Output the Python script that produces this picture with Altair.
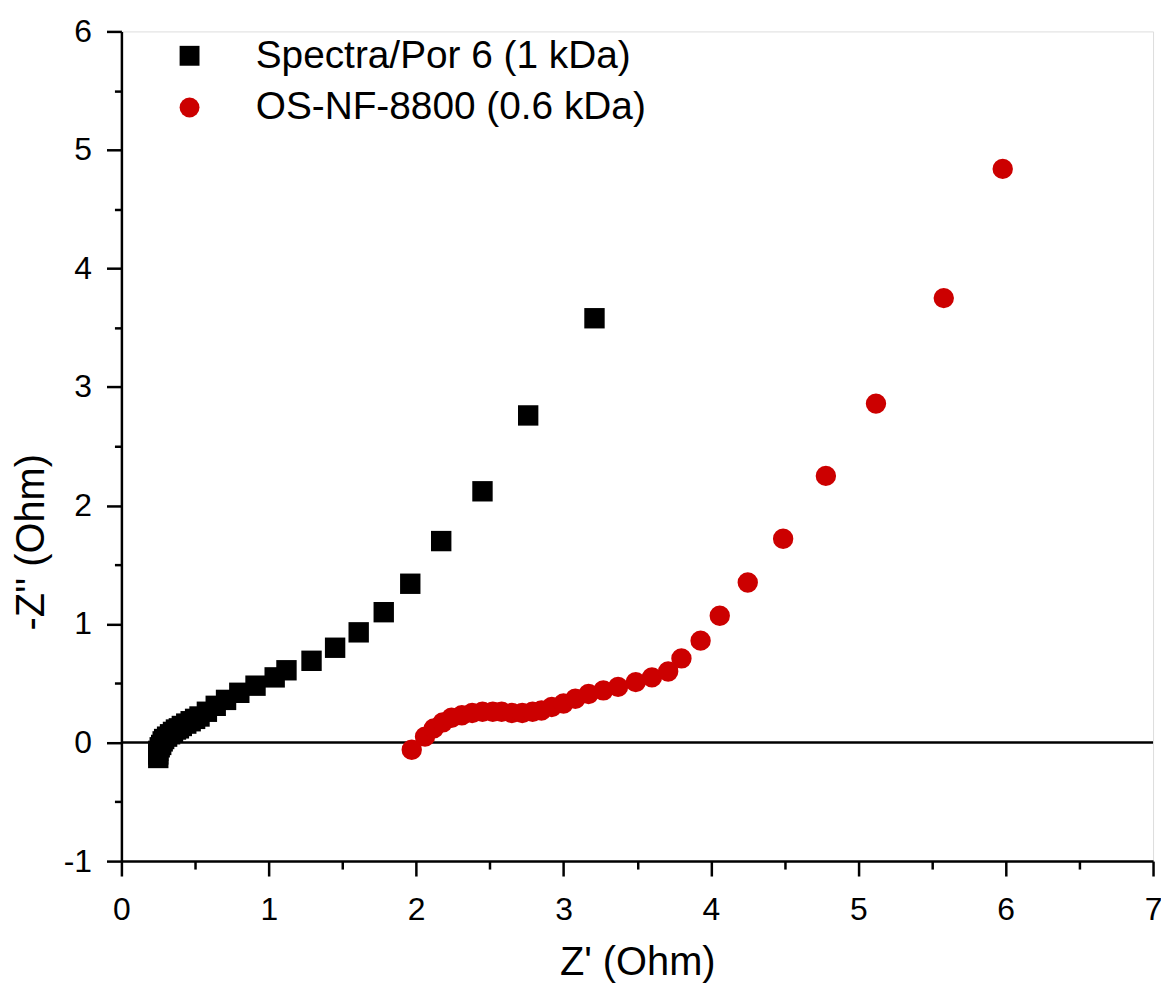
import altair as alt
import pandas as pd

# Spectra/Por 6 (1 kDa) - black squares
x_black = [0.25, 0.25, 0.25, 0.26, 0.27, 0.28, 0.29, 0.31, 0.33, 0.35, 0.37, 0.39, 0.41, 0.44,
           0.47, 0.50, 0.53, 0.58, 0.64, 0.71, 0.80, 0.91, 1.04, 1.12, 1.29, 1.45, 1.61,
           1.78, 1.96, 2.17, 2.45, 2.76, 3.21]
y_black = [-0.13, -0.10, -0.07, -0.04, -0.02, 0.01, 0.03, 0.05, 0.07, 0.09, 0.11, 0.12, 0.14, 0.16,
           0.18, 0.20, 0.22, 0.26, 0.31, 0.36, 0.42, 0.48, 0.55, 0.61, 0.69, 0.80, 0.93,
           1.10, 1.34, 1.70, 2.12, 2.76, 3.58]

# OS-NF-8800 (0.6 kDa) - red circles
x_red = [1.97, 2.06, 2.12, 2.18, 2.24, 2.31, 2.38, 2.45, 2.52, 2.58, 2.65, 2.72, 2.79, 2.85,
         2.92, 3.00, 3.08, 3.17, 3.27, 3.37, 3.49, 3.60, 3.71, 3.80, 3.93, 4.06, 4.25, 4.49,
         4.78, 5.12, 5.58, 5.98]
y_red = [-0.06, 0.05, 0.12, 0.17, 0.21, 0.23, 0.25, 0.26, 0.26, 0.26, 0.25, 0.25, 0.26, 0.27,
         0.30, 0.33, 0.37, 0.41, 0.44, 0.47, 0.51, 0.55, 0.60, 0.71, 0.86, 1.07, 1.35, 1.72,
         2.25, 2.86, 3.75, 4.84]

series_names = ["Spectra/Por 6 (1 kDa)", "OS-NF-8800 (0.6 kDa)"]
series_colors = ["#000000", "#cc0000"]
series_shapes = ["square", "circle"]

x_ticks = [0, 0.5, 1, 1.5, 2, 2.5, 3, 3.5, 4, 4.5, 5, 5.5, 6, 6.5, 7]
y_ticks = [-1, -0.5, 0, 0.5, 1, 1.5, 2, 2.5, 3, 3.5, 4, 4.5, 5, 5.5, 6]

df = pd.concat([
    pd.DataFrame({"x": x_black, "y": y_black, "s": series_names[0]}),
    pd.DataFrame({"x": x_red, "y": y_red, "s": series_names[1]}),
])

FONT = "Liberation Sans"
minor_test = "datum.value % 1 !== 0"
label_expr = "datum.value % 1 === 0 ? '' + datum.value : ''"

x_axis = alt.Axis(
    values=x_ticks, title="Z' (Ohm)", grid=False,
    labelExpr=label_expr,
    tickSize={"condition": {"test": minor_test, "value": 8}, "value": 15},
    tickWidth=2.5, tickColor="black", domainColor="black", domainWidth=2.5,
    labelFont=FONT, labelFontSize=32, labelColor="black", labelPadding=19,
    titleFont=FONT, titleFontSize=40, titleFontWeight="normal", titleColor="black",
    titleY=114, titleBaseline="alphabetic", labelFlush=False,
)
y_axis = alt.Axis(
    values=y_ticks, title="-Z'' (Ohm)", grid=False,
    labelExpr=label_expr,
    tickSize={"condition": {"test": minor_test, "value": 7}, "value": 15},
    tickWidth=2.5, tickColor="black", domainColor="black", domainWidth=2.5,
    labelFont=FONT, labelFontSize=32, labelColor="black", labelPadding=15,
    titleFont=FONT, titleFontSize=40, titleFontWeight="normal", titleColor="black",
    titleX=-78, titleY=513, titleAngle=-90, titleAlign="center", titleBaseline="alphabetic",
    labelFlush=False,
)

points = alt.Chart(df).mark_point(filled=True, opacity=1, size=420, strokeWidth=0).encode(
    x=alt.X("x:Q", scale=alt.Scale(domain=[0, 7], nice=False, zero=False), axis=x_axis),
    y=alt.Y("y:Q", scale=alt.Scale(domain=[-1, 6], nice=False, zero=False), axis=y_axis),
    color=alt.Color("s:N", scale=alt.Scale(domain=series_names, range=series_colors),
                    legend=alt.Legend(title=None, orient="none", legendX=49, legendY=5,
                                      labelFont=FONT, labelFontSize=39, labelColor="black",
                                      labelLimit=800, symbolSize=400, labelOffset=47,
                                      rowPadding=12, padding=0, symbolStrokeWidth=0,
                                      symbolOpacity=1)),
    shape=alt.Shape("s:N", scale=alt.Scale(domain=series_names, range=series_shapes), legend=None),
)

zero = alt.Chart(pd.DataFrame({"y": [0]})).mark_rule(color="black", strokeWidth=2.5).encode(
    y="y:Q"
)

chart = alt.layer(zero, points).properties(
    width=1037, height=834,
    autosize=alt.AutoSizeParams(type="none"),
    padding={"left": 114, "top": 21, "right": 8, "bottom": 120},
).configure_view(stroke=None).configure(background="white")

chart.save("out.html", embed_options={"renderer": "svg", "actions": False})
